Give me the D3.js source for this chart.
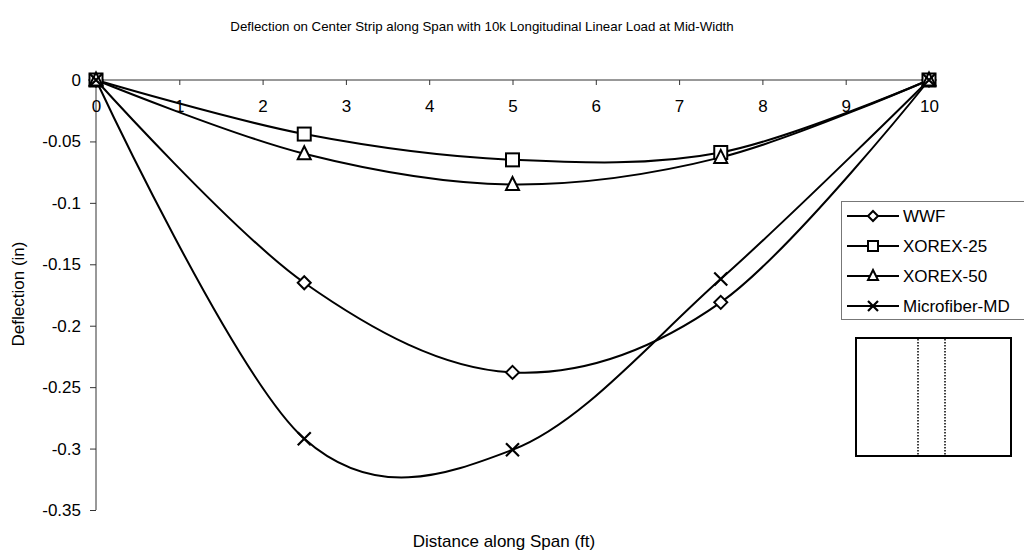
<!DOCTYPE html>
<html>
<head>
<meta charset="utf-8">
<script src="https://cdn.jsdelivr.net/npm/d3@7"></script>
<style>
  html, body { margin: 0; padding: 0; background: #fff; }
  svg { display: block; font-family: "Liberation Sans", Arial, sans-serif; }
</style>
</head>
<body>
<svg id="chart" width="1024" height="558"></svg>
<script>
const xValues = [0, 2.5, 5, 7.5, 10];
const wwf = [0, -0.165, -0.238, -0.181, 0];
const xorex25 = [0, -0.044, -0.065, -0.059, 0];
const xorex50 = [0, -0.060, -0.085, -0.063, 0];
const microfiber = [0, -0.292, -0.301, -0.162, 0];
const seriesNames = ["WWF", "XOREX-25", "XOREX-50", "Microfiber-MD"];
const seriesMarkers = ["diamond", "square", "triangle", "x"];
const xTicks = [0, 1, 2, 3, 4, 5, 6, 7, 8, 9, 10];
const yTicks = [0, -0.05, -0.1, -0.15, -0.2, -0.25, -0.3, -0.35];
const titleText = "Deflection on Center Strip along Span with 10k Longitudinal Linear Load at Mid-Width";
const xTitle = "Distance along Span (ft)";
const yTitle = "Deflection (in)";

const seriesValues = [wwf, xorex25, xorex50, microfiber];
const series = seriesNames.map((name, i) => ({
  name, marker: seriesMarkers[i],
  points: xValues.map((x, j) => ({ x, y: seriesValues[i][j] }))
}));

const FS = 17;
const svg = d3.select("#chart");
const x = d3.scaleLinear().domain([0, 10]).range([96, 929]);
const y = d3.scaleLinear().domain([0, -0.35]).range([80, 510]);

// Title
svg.append("text").attr("x", 482).attr("y", 31).attr("text-anchor", "middle")
  .attr("font-size", 13.3).text(titleText);

// Axes
const yAxis = svg.append("g").attr("transform", `translate(${x(0)},0)`)
  .call(d3.axisLeft(y).tickValues(yTicks).tickSize(6).tickPadding(9)
    .tickFormat(d => d === 0 ? "0" : String(d)));
const xAxis = svg.append("g").attr("transform", `translate(0,${y(0)})`)
  .call(d3.axisBottom(x).tickValues(xTicks).tickSize(-5).tickPadding(20)
    .tickFormat(d3.format("d")));
[xAxis, yAxis].forEach(g => {
  g.select(".domain").attr("stroke", "#333").attr("stroke-width", 1);
  g.selectAll(".tick line").attr("stroke", "#333");
  g.selectAll(".tick text").attr("font-size", FS).attr("fill", "#000")
    .attr("font-family", "Liberation Sans, Arial, sans-serif");
});
xAxis.selectAll(".tick line").attr("y1", 0).attr("y2", 5);
yAxis.select(".domain").attr("d", `M0,${y(0)}V${y(-0.35)}`);
xAxis.select(".domain").attr("d", `M${x(0)},0H${x(10)}`);

// Axis titles
svg.append("text").attr("x", 504).attr("y", 547).attr("text-anchor", "middle")
  .attr("font-size", FS).text(xTitle);
svg.append("text").attr("transform", "translate(24,294) rotate(-90)")
  .attr("text-anchor", "middle").attr("font-size", FS).text(yTitle);

// Markers
function drawMarker(g, type, cx, cy, s) {
  if (type === "diamond") {
    g.append("path").attr("d", `M${cx},${cy - s}L${cx + s},${cy}L${cx},${cy + s}L${cx - s},${cy}Z`)
      .attr("fill", "#fff").attr("stroke", "#000").attr("stroke-width", 2);
  } else if (type === "square") {
    g.append("rect").attr("x", cx - s).attr("y", cy - s).attr("width", 2 * s).attr("height", 2 * s)
      .attr("fill", "#fff").attr("stroke", "#000").attr("stroke-width", 2);
  } else if (type === "triangle") {
    g.append("path").attr("d", `M${cx},${cy - s - 1}L${cx + s},${cy + s - 1}L${cx - s},${cy + s - 1}Z`)
      .attr("fill", "#fff").attr("stroke", "#000").attr("stroke-width", 2);
  } else {
    g.append("path").attr("d", `M${cx - s},${cy - s}L${cx + s},${cy + s}M${cx - s},${cy + s}L${cx + s},${cy - s}`)
      .attr("stroke", "#000").attr("stroke-width", 2.2);
  }
}

const line = d3.line().x(d => x(d.x)).y(d => y(d.y)).curve(d3.curveCardinal.tension(0));
const plot = svg.append("g");
series.forEach(s => {
  plot.append("path").datum(s.points).attr("d", line)
    .attr("fill", "none").attr("stroke", "#000").attr("stroke-width", 2);
});
series.forEach(s => {
  const mg = plot.append("g");
  s.points.forEach(p => drawMarker(mg, s.marker, x(p.x), y(p.y), 6.5));
});

// Legend
const lg = svg.append("g");
lg.append("rect").attr("x", 841.5).attr("y", 201.5).attr("width", 190).attr("height", 118)
  .attr("fill", "#fff").attr("stroke", "#777").attr("stroke-width", 1);
series.forEach((s, i) => {
  const ly = 216 + i * 30;
  lg.append("line").attr("x1", 847).attr("x2", 899).attr("y1", ly).attr("y2", ly)
    .attr("stroke", "#000").attr("stroke-width", 2);
  drawMarker(lg, s.marker, 873, ly, 5);
  lg.append("text").attr("x", 903).attr("y", ly + 6).attr("font-size", FS).text(s.name);
});

// Inset sketch
const ins = svg.append("g");
ins.append("rect").attr("x", 856).attr("y", 338).attr("width", 155).attr("height", 118)
  .attr("fill", "none").attr("stroke", "#000").attr("stroke-width", 2);
[918, 945].forEach(xx => ins.append("line").attr("x1", xx).attr("x2", xx).attr("y1", 339).attr("y2", 455)
  .attr("stroke", "#000").attr("stroke-width", 1.5).attr("stroke-dasharray", "1.5,1.5"));
</script>
</body>
</html>
